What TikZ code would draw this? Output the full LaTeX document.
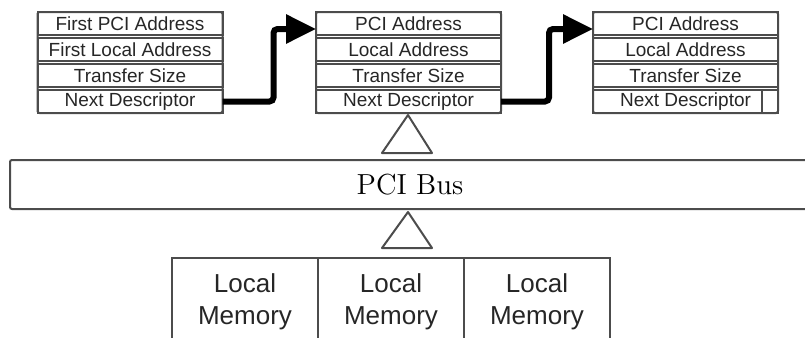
\documentclass[tikz,border=0pt]{standalone}
\usepackage{fontspec}
\usepackage{tikz}
\usetikzlibrary{arrows.meta}
\usetikzlibrary{positioning}
\usetikzlibrary{fit}
\newfontfamily\arialfont{Liberation Sans}
\tikzset{>=latex}
\tikzstyle{field} = [rectangle, draw=black!70, line width=1pt, outer sep=0, inner sep=0, minimum width=92.5pt, minimum height=11.5pt, text=black!85, font=\arialfont\fontsize{9.5}{10}\selectfont]
\tikzstyle{frame} = [rectangle, draw=black!70, line width=1pt, outer sep=0, inner sep=0, rounded corners=1pt]
\tikzstyle{mem} = [rectangle, draw=black!70, line width=1pt, outer sep=0, inner sep=0, minimum width=73pt, minimum height=44pt, align=center, text=black!85, font=\arialfont\fontsize{13}{16}\selectfont]
\tikzstyle{link} = [-{Triangle[length=15pt, width=14pt]}, line width=3pt, rounded corners=2pt]
\tikzstyle{hollow} = [draw=black!70, line width=1pt, fill=white, line join=round]

\begin{document}
\begin{tikzpicture}[x=0.5pt, y=-0.5pt, node distance=1.5pt]
\path [use as bounding box, clip] (0, 0) rectangle (805, 338);
% first descriptor
\node [field] (a1) at (130, 23.5) {First PCI Address};
\node [field, below=of a1] (a2) {First Local Address};
\node [field, below=of a2] (a3) {Transfer Size};
\node [field, below=of a3] (a4) {Next Descriptor};
\node [frame, fit=(a1)(a4)] (A) {};
% second descriptor
\node [field] (b1) at (408.5, 23.5) {PCI Address};
\node [field, below=of b1] (b2) {Local Address};
\node [field, below=of b2] (b3) {Transfer Size};
\node [field, below=of b3] (b4) {Next Descriptor};
\node [frame, fit=(b1)(b4)] (B) {};
% third descriptor
\node [field] (c1) at (685.5, 23.5) {PCI Address};
\node [field, below=of c1] (c2) {Local Address};
\node [field, below=of c2] (c3) {Transfer Size};
\node [field, below=of c3] (c4) {Next Descriptor};
\node [frame, fit=(c1)(c4)] (C) {};
\draw [draw=black!70, line width=1pt] ([xshift=-8pt]c4.north east) -- ([xshift=-8pt]c4.south east);
% chain
\draw [link] (a4.east) -- ++(51, 0) |- ([yshift=-2.75pt]b1.west);
\draw [link] (b4.east) -- ++(48, 0) |- ([yshift=-2.75pt]c1.west);
% bus
\node [frame, minimum width=400pt, minimum height=24.5pt, font=\fontsize{14.5}{16}\selectfont] (bus) at (410, 184.5) {PCI Bus};
\draw [hollow] (382, 153) -- (408, 115) -- (432, 153) -- cycle;
\draw [hollow] (382, 248) -- (408, 212) -- (432, 248) -- cycle;
% memories
\node [mem] (m1) at (245, 302) {Local\\Memory};
\node [mem, right=0pt of m1] (m2) {Local\\Memory};
\node [mem, right=0pt of m2] (m3) {Local\\Memory};
\end{tikzpicture}
\end{document}
